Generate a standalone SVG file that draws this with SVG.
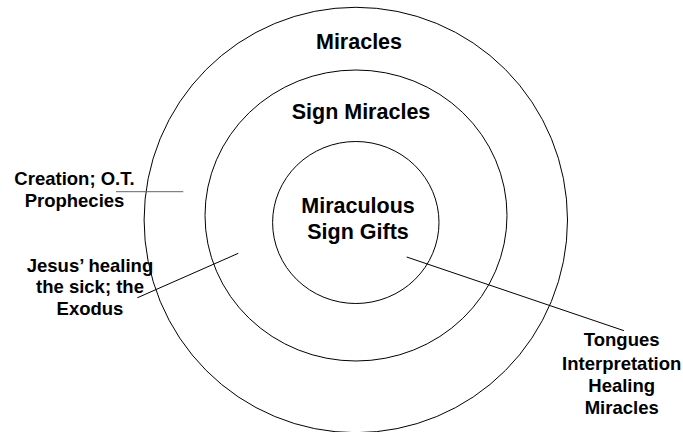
<svg xmlns="http://www.w3.org/2000/svg" width="683" height="432" viewBox="0 0 683 432">
<style>
.ring{fill:none;stroke:#000;stroke-width:1}
.t{font-family:"Liberation Sans",Arial,sans-serif;font-weight:bold;fill:#000;text-anchor:middle}
.big{font-size:21.5px}
.sm{font-size:18.5px}
.c{stroke:#000;stroke-width:1;fill:none}
</style>
<rect width="683" height="432" fill="#fff"/>
<g id="miracles">
<ellipse class="ring" cx="355.8" cy="220" rx="211.7" ry="212.7"/>
<text class="t big" x="359" y="49">Miracles</text>
</g>
<g id="sign-miracles">
<ellipse class="ring" cx="356" cy="215.5" rx="151" ry="145.5"/>
<text class="t big" x="361" y="119">Sign Miracles</text>
</g>
<g id="sign-gifts">
<ellipse class="ring" cx="355.8" cy="222.5" rx="83.2" ry="81"/>
<text class="t big" x="358" y="212.5">Miraculous</text>
<text class="t big" x="358" y="238.5">Sign Gifts</text>
</g>
<g id="creation">
<text class="t sm" x="74.5" y="185">Creation; O.T.</text>
<text class="t sm" x="74.5" y="206.5">Prophecies</text>
</g>
<g id="jesus">
<text class="t sm" x="90" y="271.5">Jesus’ healing</text>
<text class="t sm" x="90" y="293.3">the sick; the</text>
<text class="t sm" x="90" y="315">Exodus</text>
</g>
<g id="gifts-list">
<text class="t sm" x="621.7" y="346">Tongues</text>
<text class="t sm" x="621.7" y="369.5">Interpretation</text>
<text class="t sm" x="621.7" y="392">Healing</text>
<text class="t sm" x="621.7" y="413.5">Miracles</text>
</g>
<g id="connectors">
<line class="c" x1="116" y1="191.7" x2="183.3" y2="191.7" stroke="#666" style="stroke:#666"/>
<line class="c" x1="137.3" y1="297.8" x2="238.3" y2="253.3"/>
<line class="c" x1="406.7" y1="257" x2="624" y2="330.7"/>
</g>
</svg>
